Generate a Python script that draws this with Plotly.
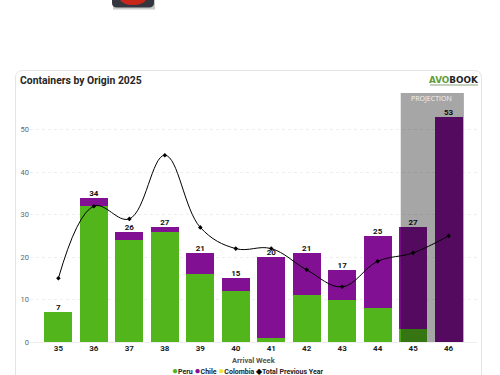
import plotly.graph_objects as go

weeks = ["35", "36", "37", "38", "39", "40", "41", "42", "43", "44", "45", "46"]
peru = [7, 32, 24, 26, 16, 12, 1, 11, 10, 8, 3, 0]
chile = [0, 2, 2, 1, 5, 3, 19, 10, 7, 17, 24, 53]
colombia = [0, 0, 0, 0, 0, 0, 0, 0, 0, 0, 0, 0]
previous_year = [15, 32, 29, 44, 27, 22, 22, 17, 13, 19, 21, 25]
totals = [7, 34, 26, 27, 21, 15, 20, 21, 17, 25, 27, 53]

W, H = 500, 375
L, R, T, B = 30, 477, 93, 342.3
FONT = "Roboto"


def px(v):
    return (v - L) / (R - L)


def py(v):
    return (B - v) / (B - T)


fig = go.Figure()
fig.add_bar(x=weeks, y=peru, name="Peru", marker_color="#52b51c", marker_line_width=0)
fig.add_bar(x=weeks, y=chile, name="Chile", marker_color="#821092", marker_line_width=0)
fig.add_bar(x=weeks, y=colombia, name="Colombia", marker_color="#f5e642", marker_line_width=0)
fig.add_scatter(
    x=weeks, y=previous_year, name="Total Previous Year", mode="lines+markers",
    line=dict(color="#000000", width=1.0, shape="spline", smoothing=1.1),
    marker=dict(symbol="diamond", size=3.5, color="#000000"),
)
fig.add_scatter(
    x=weeks, y=totals, mode="text", text=[str(t) for t in totals], textposition="top center",
    textfont=dict(family=FONT, size=8, color="#111111", weight=700),
    showlegend=False, hoverinfo="skip", cliponaxis=False,
)

shapes = [
    # card
    dict(type="path", xref="paper", yref="paper", layer="below",
         path=(f"M {px(15.5)} {py(400)} L {px(15.5)} {py(78)} Q {px(15.5)} {py(70.5)} {px(23)} {py(70.5)} "
               f"L {px(474)} {py(70.5)} Q {px(481.5)} {py(70.5)} {px(481.5)} {py(78)} L {px(481.5)} {py(400)}"),
         line=dict(color="#e4e4e4", width=1), fillcolor="rgba(0,0,0,0)"),
    # projection overlay
    dict(type="rect", xref="x", yref="paper", x0=9.65, x1=11.43, y0=0, y1=1, layer="above",
         fillcolor="rgba(0,0,0,0.35)", line_width=0),
    # clipped icon at top of page
    dict(type="rect", xref="paper", yref="paper", x0=px(113), x1=px(155), y0=py(-10), y1=py(9.5),
         fillcolor="#c8c8c8", line_width=0, layer="below"),
    dict(type="path", xref="paper", yref="paper", layer="below",
         path=(f"M {px(112)} {py(-10)} L {px(112)} {py(3)} Q {px(112)} {py(7.5)} {px(117)} {py(7.5)} "
               f"L {px(149)} {py(7.5)} Q {px(154)} {py(7.5)} {px(154)} {py(3)} L {px(154)} {py(-10)} Z"),
         fillcolor="#34353f", line_width=0),
    dict(type="circle", xref="paper", yref="paper", x0=px(120), x1=px(146), y0=py(-8), y1=py(5),
         fillcolor="#c9261a", line_width=0, layer="below"),
    # logo tagline
    dict(type="line", xref="paper", yref="paper", x0=px(430), x1=px(478), y0=py(85), y1=py(85),
         line=dict(color="#8aa67c", width=1.2), layer="below"),
]

ann = [
    dict(xref="paper", yref="paper", x=px(18), y=py(80.5), xanchor="left", yanchor="middle", showarrow=False,
         text="<b>Containers by Origin 2025</b>", font=dict(family=FONT, size=10.4, color="#252525")),
    dict(xref="paper", yref="paper", x=px(481), y=py(80), xanchor="right", yanchor="middle", showarrow=False,
         text="<b><span style='color:#5d9e3a'>AVO</span><span style='color:#222222'>BOOK</span></b>",
         font=dict(family="DejaVu Sans", size=8.8)),
    dict(x=10.53, xref="x", yref="paper", y=py(98.5), yanchor="middle", showarrow=False,
         text="PROJECTION", font=dict(family="Open Sans", size=7, color="#f4f4f4")),
    dict(xref="paper", yref="paper", x=px(254), y=py(361), xanchor="center", yanchor="middle", showarrow=False,
         text="<b>Arrival Week</b>", font=dict(family=FONT, size=7.5, color="#555555")),
    dict(xref="paper", yref="paper", x=px(247.5), y=py(370.5), xanchor="center", yanchor="middle", showarrow=False,
         text=("<span style='color:#52b51c;font-size:10px'>●</span><b>Peru </b>"
               "<span style='color:#821092;font-size:10px'>●</span><b>Chile </b>"
               "<span style='color:#f5e642;font-size:10px'>●</span><b>Colombia </b>"
               "<span style='color:#000000;font-size:8px'>◆</span><b>Total Previous Year</b>"),
         font=dict(family=FONT, size=7, color="#222222")),
]

fig.update_layout(
    width=W, height=H, barmode="stack", bargap=0.21,
    margin=dict(l=L, r=W - R, t=T, b=H - B, pad=0),
    paper_bgcolor="#ffffff", plot_bgcolor="#ffffff",
    font=dict(family=FONT, size=8, color="#444444"),
    showlegend=False, shapes=shapes, annotations=ann,
    xaxis=dict(type="category", categoryorder="array", categoryarray=weeks, range=[-0.8, 11.8],
               tickfont=dict(family=FONT, size=8, color="#222222", weight=700),
               showgrid=False, zeroline=False, showline=False, ticks="", ticklen=1),
    yaxis=dict(range=[0, 58.66], tickvals=[0, 10, 20, 30, 40, 50], showline=False,
               gridcolor="#eeeeee", griddash="dot", gridwidth=1, zeroline=True, zerolinecolor="#eeeeee",
               zerolinewidth=1, ticks="", tickfont=dict(family=FONT, size=7.5, color="#666666")),
)

fig.write_html("out.html", config=dict(displayModeBar=False), post_script="document.body.style.margin='0';")
